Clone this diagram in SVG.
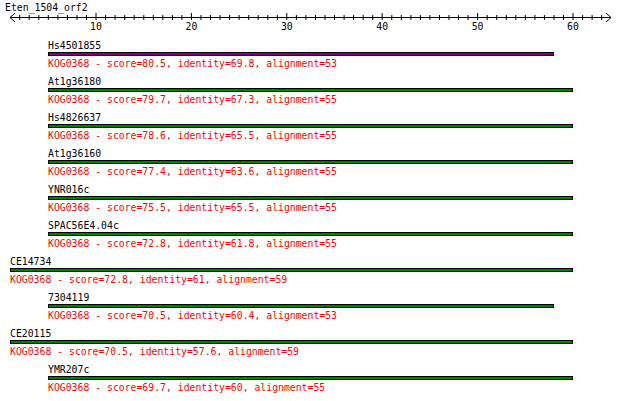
<svg xmlns="http://www.w3.org/2000/svg" width="620" height="401" viewBox="0 0 620 401">
<style>
text{font-family:"DejaVu Sans Mono","Liberation Mono",monospace;font-size:9.8px}
.n{fill:#000}
.s{fill:#ff0000}
.ax{stroke:#000;stroke-width:1;fill:none}
.g{fill:#008000;stroke:#000;stroke-width:1}
.p{fill:#800080;stroke:#000;stroke-width:1}
.t{font-size:9.8px;text-anchor:middle}
</style>
<rect width="620" height="401" fill="#fff"/>
<g id="axis">
<text class="n" x="5" y="11">Eten_1504_orf2</text>
<path class="ax" d="M10,17.5H611M15,13L10,17.5L15,22M606,13L611,17.5L606,22"/>
<path class="ax" d="M19.7,15V20M29.2,15V20M38.8,15V20M48.3,15V20M57.9,15V20M67.4,15V20M77,15V20M86.5,15V20M96,13V20M105.6,15V20M115.1,15V20M124.7,15V20M134.2,15V20M143.8,15V20M153.3,15V20M162.8,15V20M172.4,15V20M181.9,15V20M191.4,13V20M201,15V20M210.5,15V20M220.1,15V20M229.6,15V20M239.1,15V20M248.7,15V20M258.2,15V20M267.8,15V20M277.3,15V20M286.8,13V20M296.4,15V20M305.9,15V20M315.5,15V20M325,15V20M334.5,15V20M344.1,15V20M353.6,15V20M363.2,15V20M372.7,15V20M382.2,13V20M391.8,15V20M401.3,15V20M410.9,15V20M420.4,15V20M429.9,15V20M439.5,15V20M449,15V20M458.6,15V20M468.1,15V20M477.6,13V20M487.2,15V20M496.7,15V20M506.3,15V20M515.8,15V20M525.3,15V20M534.9,15V20M544.4,15V20M554,15V20M563.5,15V20M573,13V20M582.6,15V20M592.1,15V20M601.7,15V20"/>
<text class="n t" x="96" y="30">10</text>
<text class="n t" x="191.4" y="30">20</text>
<text class="n t" x="286.8" y="30">30</text>
<text class="n t" x="382.2" y="30">40</text>
<text class="n t" x="477.6" y="30">50</text>
<text class="n t" x="573" y="30">60</text>
</g>
<g id="connectors"></g>
<g id="Hs4501855"><text class="n" x="48" y="49">Hs4501855</text><rect class="p" x="48.5" y="52.5" width="505" height="3"/><text class="s" x="48" y="66.5">KOG0368 - score=80.5, identity=69.8, alignment=53</text></g>
<g id="At1g36180"><text class="n" x="48" y="85">At1g36180</text><rect class="g" x="48.5" y="88.5" width="524" height="3"/><text class="s" x="48" y="102.5">KOG0368 - score=79.7, identity=67.3, alignment=55</text></g>
<g id="Hs4826637"><text class="n" x="48" y="121">Hs4826637</text><rect class="g" x="48.5" y="124.5" width="524" height="3"/><text class="s" x="48" y="138.5">KOG0368 - score=78.6, identity=65.5, alignment=55</text></g>
<g id="At1g36160"><text class="n" x="48" y="157">At1g36160</text><rect class="g" x="48.5" y="160.5" width="524" height="3"/><text class="s" x="48" y="174.5">KOG0368 - score=77.4, identity=63.6, alignment=55</text></g>
<g id="YNR016c"><text class="n" x="48" y="193">YNR016c</text><rect class="g" x="48.5" y="196.5" width="524" height="3"/><text class="s" x="48" y="210.5">KOG0368 - score=75.5, identity=65.5, alignment=55</text></g>
<g id="SPAC56E4.04c"><text class="n" x="48" y="229">SPAC56E4.04c</text><rect class="g" x="48.5" y="232.5" width="524" height="3"/><text class="s" x="48" y="246.5">KOG0368 - score=72.8, identity=61.8, alignment=55</text></g>
<g id="CE14734"><text class="n" x="10" y="265">CE14734</text><rect class="g" x="10.5" y="268.5" width="562" height="3"/><text class="s" x="10" y="282.5">KOG0368 - score=72.8, identity=61, alignment=59</text></g>
<g id="7304119"><text class="n" x="48" y="301">7304119</text><rect class="g" x="48.5" y="304.5" width="505" height="3"/><text class="s" x="48" y="318.5">KOG0368 - score=70.5, identity=60.4, alignment=53</text></g>
<g id="CE20115"><text class="n" x="10" y="337">CE20115</text><rect class="g" x="10.5" y="340.5" width="562" height="3"/><text class="s" x="10" y="354.5">KOG0368 - score=70.5, identity=57.6, alignment=59</text></g>
<g id="YMR207c"><text class="n" x="48" y="373">YMR207c</text><rect class="g" x="48.5" y="376.5" width="524" height="3"/><text class="s" x="48" y="390.5">KOG0368 - score=69.7, identity=60, alignment=55</text></g>
</svg>
